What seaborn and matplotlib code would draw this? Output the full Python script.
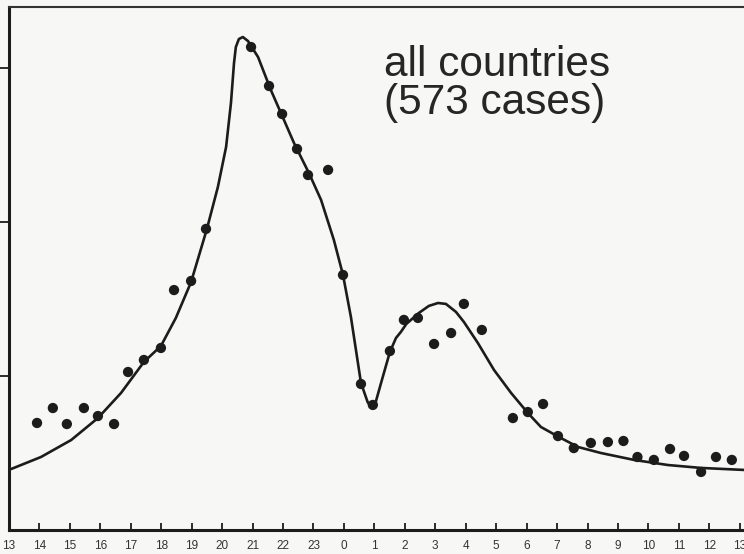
"""
Hourly distribution of cases, all countries (573 cases).
Scanned-style chart: observed half-hour counts with a fitted curve.
"""

import matplotlib
matplotlib.use("Agg")
import matplotlib.pyplot as plt
import numpy as np
import pandas as pd
import seaborn as sns

# hours since 13:00 (0 = 13:00, 24 = 13:00 next day)
obs_hours = [0.92, 1.44, 1.90, 2.46, 2.92, 3.45, 3.91, 4.43, 4.99, 5.42, 5.98, 6.47,
             7.95, 8.54, 8.97, 9.46, 9.82, 10.48, 10.97, 11.56, 11.95, 12.51, 12.97,
             13.43, 13.96, 14.52, 14.94, 15.53, 16.55, 17.04, 17.54, 18.03, 18.55,
             19.11, 19.67, 20.18, 20.64, 21.18, 21.71, 22.17, 22.73, 23.22, 23.74]
obs_counts = [6.95, 7.92, 6.88, 7.92, 7.40, 6.88, 10.26, 11.04, 11.82, 15.58, 16.17, 19.55,
              31.36, 28.83, 27.01, 24.74, 23.05, 23.38, 16.56, 9.48, 8.12, 11.62, 13.64,
              13.77, 12.08, 12.79, 14.68, 12.99, 7.27, 7.66, 8.18, 6.10, 5.32,
              5.65, 5.71, 5.78, 4.74, 4.55, 5.26, 4.81, 3.77, 4.74, 4.55]

# fitted curve
fit_hours = [0.07, 1.05, 2.04, 2.92, 3.68, 4.43, 4.99, 5.48, 5.98, 6.50, 6.86, 7.13,
             7.29, 7.39, 7.45, 7.55, 7.68, 7.85, 8.18, 8.60, 8.93, 9.36, 9.85, 10.25,
             10.67, 10.97, 11.23, 11.56, 11.78, 11.92, 12.05, 12.22, 12.51, 12.71,
             12.87, 13.05, 13.46, 13.79, 14.09, 14.35, 14.68, 14.94, 15.40, 15.93,
             16.49, 17.04, 17.47, 18.06, 18.69, 19.44, 20.53, 21.64, 22.73, 24.14]
fit_counts = [3.96, 4.74, 5.84, 7.27, 8.90, 10.91, 11.95, 13.77, 16.10, 19.55, 22.27, 24.87,
              27.73, 30.32, 31.36, 31.88, 32.01, 31.75, 30.71, 28.57, 27.08, 25.13, 23.18, 21.43,
              18.83, 16.56, 13.83, 9.55, 8.30, 7.92, 8.35, 9.55, 11.56, 12.47,
              12.86, 13.38, 14.09, 14.55, 14.74, 14.68, 14.16, 13.51, 12.14, 10.39,
              8.90, 7.60, 6.69, 6.04, 5.39, 5.00, 4.55, 4.22, 4.03, 3.90]

tick_labels = ["13", "14", "15", "16", "17", "18", "19", "20", "21", "22", "23", "0",
               "1", "2", "3", "4", "5", "6", "7", "8", "9", "10", "11", "12", "13"]
title_lines = ["all countries", "(573 cases)"]

sns.set_theme(style="white")
plt.rcParams["font.family"] = ["Liberation Sans", "DejaVu Sans"]

INK = "#1c1c1c"
PAPER = "#f7f7f5"

df_obs = pd.DataFrame({"hour": obs_hours, "count": obs_counts})
df_fit = pd.DataFrame({"hour": fit_hours, "count": fit_counts})

fig = plt.figure(figsize=(7.44, 5.54), dpi=100, facecolor=PAPER)
ax = fig.add_axes([9 / 744, 24 / 554, 735 / 744, 523 / 554])
ax.set_facecolor(PAPER)

sns.lineplot(data=df_fit, x="hour", y="count", sort=False, color=INK,
             linewidth=1.9, ax=ax, solid_joinstyle="round", solid_capstyle="round")
sns.scatterplot(data=df_obs, x="hour", y="count", color=INK, s=55,
                edgecolor="none", ax=ax, zorder=3)

ax.set_xlim(0, 24.14)
ax.set_ylim(0, 33.96)

ax.set_xticks(np.arange(len(tick_labels)))
ax.set_xticklabels(tick_labels)
ax.set_yticks([10, 20, 30])
ax.set_yticklabels([])
ax.tick_params(axis="x", direction="in", length=5, width=1.3, color=INK,
               labelsize=8.5, labelcolor="#333333", pad=7, bottom=True)
ax.tick_params(axis="y", direction="out", length=7, width=1.3, color=INK, left=True)
ax.set_xlabel("")
ax.set_ylabel("")

for side in ["left", "bottom"]:
    ax.spines[side].set_linewidth(2.2)
    ax.spines[side].set_color(INK)
ax.spines["top"].set_linewidth(1.5)
ax.spines["top"].set_color("#333333")
ax.spines["right"].set_visible(False)

ax.text(12.32, 29.45, title_lines[0], fontsize=30.5, color="#262626", va="baseline")
ax.text(12.32, 27.0, title_lines[1], fontsize=30.5, color="#262626", va="baseline")

fig.savefig("out.png", dpi=100, facecolor=PAPER)
plt.close(fig)
